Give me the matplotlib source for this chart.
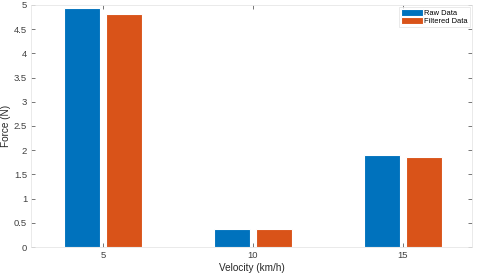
import matplotlib.pyplot as plt
import numpy as np

plt.rcParams['font.family'] = ['Liberation Sans', 'DejaVu Sans']

# valores
velocities = [5, 10, 15]
raw_force = [4.94, 0.37, 1.91]
filtered_force = [4.82, 0.37, 1.85]
labels = ['Raw Data', 'Filtered Data']

fig = plt.figure(figsize=(4.8, 2.73), dpi=100)
ax = fig.add_axes([0.065, 0.095, 0.918, 0.887])

x = np.array(velocities, dtype=float)
w = 1.2
ax.bar(x - 0.71, raw_force, width=w, color='#0072BD', edgecolor='white', linewidth=0.8, label=labels[0])
ax.bar(x + 0.71, filtered_force, width=w, color='#D95319', edgecolor='white', linewidth=0.8, label=labels[1])

ax.set_xlim(2.6, 17.3)
ax.set_ylim(0, 5)
ax.set_xticks(velocities)
ax.set_yticks(np.arange(0, 5.01, 0.5))
ax.set_yticklabels(['0', '0.5', '1', '1.5', '2', '2.5', '3', '3.5', '4', '4.5', '5'])

for s in ax.spines.values():
    s.set_color('#e6e6e6')
    s.set_linewidth(0.6)
ax.tick_params(labelsize=6.8, colors='#404040', length=3, width=0.5, direction='in',
               top=True, right=True, pad=3)
ax.set_xlabel('Velocity (km/h)', fontsize=7.2, color='#262626')
ax.set_ylabel('Force (N)', fontsize=7.2, color='#262626')
ax.xaxis.set_label_coords(0.5, -0.066)
ax.yaxis.set_label_coords(-0.046, 0.5)

leg = ax.legend(loc='upper right', fontsize=5.4, frameon=True, fancybox=False,
                handlelength=2.9, handleheight=1.0, borderpad=0.25, labelspacing=0.05,
                handletextpad=0.2, borderaxespad=0.3)
leg.get_frame().set_edgecolor('#e0e0e0')
leg.get_frame().set_linewidth(0.6)

plt.savefig('out.png', dpi=100)
